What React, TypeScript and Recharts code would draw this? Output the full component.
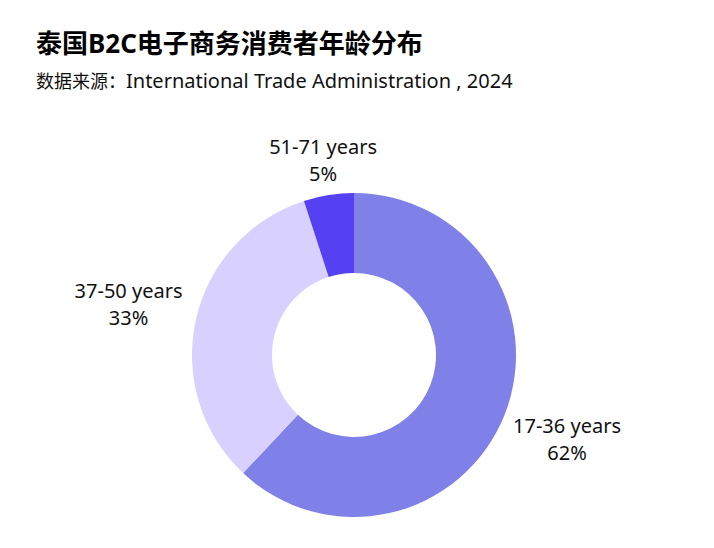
import React from 'react';
import { PieChart, Pie, Cell } from 'recharts';

const AGE_GROUPS = ['17-36 years', '37-50 years', '51-71 years'];
const SHARES = [62, 33, 5];
const COLORS = ['#8081E8', '#D8D1FF', '#5641F2'];

const data = AGE_GROUPS.map((name, i) => ({ name, value: SHARES[i] }));

const FONT = '"Noto Sans", "Noto Sans CJK SC", sans-serif';

const renderLabel = ({ cx, cy, midAngle, name, value }: any) => {
    const RADIAN = Math.PI / 180;
    const cos = Math.cos(-midAngle * RADIAN);
    const sin = Math.sin(-midAngle * RADIAN);
    // side labels sit further out than the top one, since the text is wide
    const r = 191 + 41 * Math.abs(cos);
    const x = cx + r * cos;
    const y = cy + r * sin;
    return (
        <text x={x} y={y} textAnchor="middle" fill="#111" style={{ fontSize: 20, fontFamily: FONT }}>
            <tspan x={x} dy={-6.5}>{name}</tspan>
            <tspan x={x} dy={27}>{`${value}%`}</tspan>
        </text>
    );
};

export default function App() {
    return (
        <div style={{ position: 'absolute', left: 0, top: 0, width: 714, height: 548, background: '#fff', fontFamily: FONT }}>
            <div style={{ position: 'absolute', left: 36, top: 30, fontSize: 26, lineHeight: 1, fontWeight: 700, color: '#000', whiteSpace: 'nowrap' }}>
                泰国B2C电子商务消费者年龄分布
            </div>
            <div style={{ position: 'absolute', left: 36, top: 71, fontSize: 18, lineHeight: 1, color: '#111', whiteSpace: 'nowrap' }}>
                数据来源：<span style={{ fontSize: 20 }}>International Trade Administration , 2024</span>
            </div>
            <PieChart width={714} height={548} margin={{ top: 0, right: 0, bottom: 0, left: 0 }} style={{ position: 'absolute', left: 0, top: 0 }}>
                <Pie
                    data={data}
                    dataKey="value"
                    nameKey="name"
                    cx={354}
                    cy={355}
                    innerRadius={82}
                    outerRadius={162}
                    startAngle={90}
                    endAngle={-270}
                    stroke="none"
                    labelLine={false}
                    label={renderLabel}
                    isAnimationActive={false}
                >
                    {data.map((d, i) => (
                        <Cell key={d.name} fill={COLORS[i]} />
                    ))}
                </Pie>
            </PieChart>
        </div>
    );
}
